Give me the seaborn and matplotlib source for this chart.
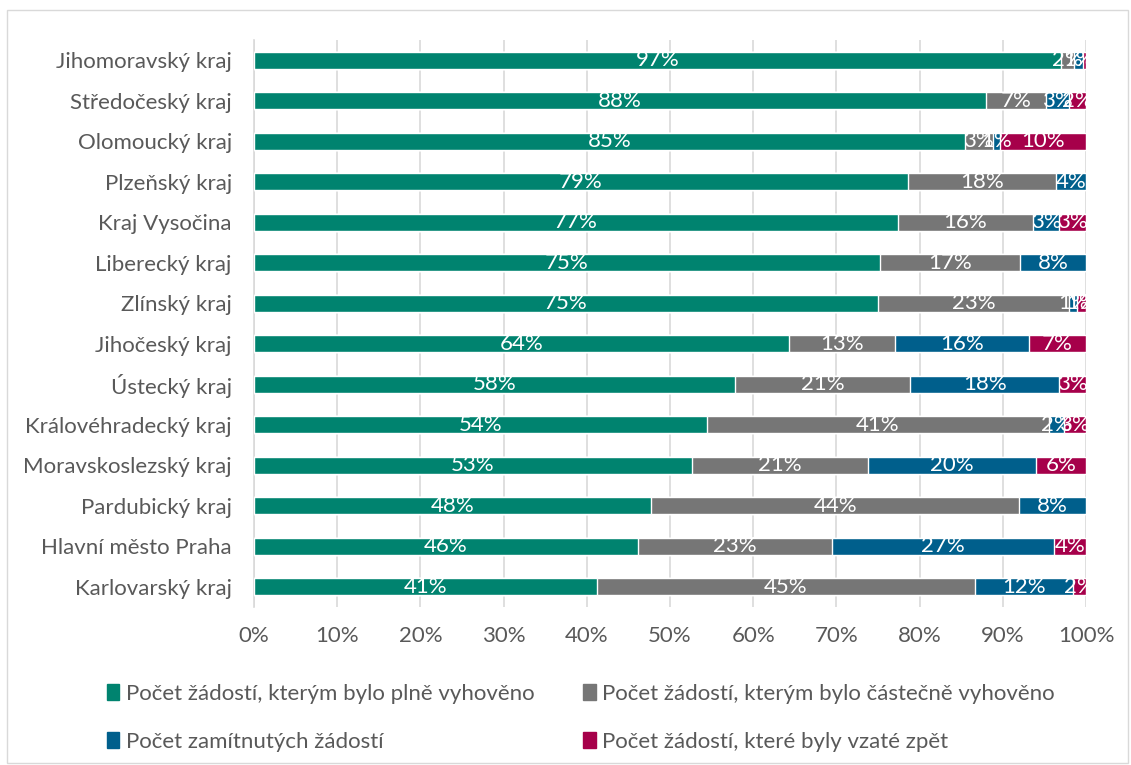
import matplotlib
matplotlib.use("Agg")
import matplotlib.pyplot as plt
from matplotlib.patches import Patch, Rectangle
import numpy as np
import pandas as pd
import seaborn as sns

regions = ["Jihomoravský kraj", "Středočeský kraj", "Olomoucký kraj", "Plzeňský kraj",
           "Kraj Vysočina", "Liberecký kraj", "Zlínský kraj", "Jihočeský kraj",
           "Ústecký kraj", "Královéhradecký kraj", "Moravskoslezský kraj",
           "Pardubický kraj", "Hlavní město Praha", "Karlovarský kraj"]

full = [97.0, 88.0, 85.4, 78.6, 77.4, 75.2, 75.0, 64.3, 57.8, 54.4, 52.6, 47.7, 46.1, 41.2]
partial = [1.6, 7.2, 3.4, 17.8, 16.2, 16.9, 23.0, 12.7, 21.1, 41.1, 21.2, 44.3, 23.4, 45.4]
rejected = [1.0, 2.8, 0.9, 3.6, 3.2, 7.9, 0.9, 16.1, 17.9, 1.8, 20.2, 8.0, 26.6, 11.8]
withdrawn = [0.4, 2.0, 10.3, 0.0, 3.2, 0.0, 1.1, 6.9, 3.2, 2.7, 6.0, 0.0, 3.9, 1.6]

series_names = ["Počet žádostí, kterým bylo plně vyhověno",
                "Počet žádostí, kterým bylo částečně vyhověno",
                "Počet zamítnutých žádostí",
                "Počet žádostí, které byly vzaté zpět"]
colors = ["#00836F", "#767676", "#005F8C", "#A6004A"]

text_col = "#595959"
fs = 16

sns.set_theme(style="white")
plt.rcParams["font.family"] = ["Lato", "DejaVu Sans"]

df = pd.DataFrame({"region": regions, "full": full, "partial": partial,
                   "rejected": rejected, "withdrawn": withdrawn})
cols = ["full", "partial", "rejected", "withdrawn"]
cum = df[cols].cumsum(axis=1)

fig = plt.figure(figsize=(11.31, 7.65), dpi=100)
ax = fig.add_axes([254 / 1131, 1 - 607 / 765, (1086 - 254) / 1131, (607 - 40) / 765])

# stacked bars: draw cumulative totals from the outermost inwards
for col, c in zip(cols[::-1], colors[::-1]):
    sns.barplot(x=cum[col], y=df["region"], color=c, width=0.42, orient="h",
                ax=ax, saturation=1, zorder=3)

# data labels
for i in range(len(df)):
    left = 0.0
    for col in cols:
        v = df.loc[i, col]
        if round(v) > 0:
            ax.text(left + v / 2, i, f"{round(v):d}%", ha="center", va="center",
                    color="white", fontsize=fs, zorder=5)
        left += v

ax.set_xlim(0, 100)
ax.set_ylim(len(df) - 0.5, -0.5)
ax.set_xticks(np.arange(0, 101, 10))
ax.set_xticklabels([f"{t}%" for t in range(0, 101, 10)])
ax.set_xlabel("")
ax.set_ylabel("")
ax.grid(axis="x", color="#D9D9D9", linewidth=1.2, zorder=0)
ax.set_axisbelow(True)
for s in ["top", "right", "bottom"]:
    ax.spines[s].set_visible(False)
ax.spines["left"].set_color("#D9D9D9")
ax.spines["left"].set_linewidth(1.2)
ax.tick_params(axis="x", length=0, pad=14, labelsize=fs, labelcolor=text_col)
ax.tick_params(axis="y", length=0, pad=16, labelsize=fs, labelcolor=text_col)

# legend fills column-wise, so order handles to get rows: (full, partial), (rejected, withdrawn)
order = [0, 2, 1, 3]
handles = [Patch(facecolor=colors[k], edgecolor=colors[k]) for k in order]
labels = [series_names[k] for k in order]
fig.legend(handles, labels, loc="upper left", ncol=2,
           bbox_to_anchor=(87 / 1131, 1 - 664 / 765), frameon=False,
           fontsize=fs, labelcolor=text_col, handlelength=0.55, handleheight=0.7,
           handletextpad=0.3, columnspacing=2.2, labelspacing=1.25)

fig.patches.append(Rectangle((7 / 1131, 2 / 765), 1121 / 1131, 753 / 765,
                             transform=fig.transFigure, fill=False,
                             edgecolor="#D9D9D9", linewidth=1))

fig.savefig("out.png", dpi=100)
